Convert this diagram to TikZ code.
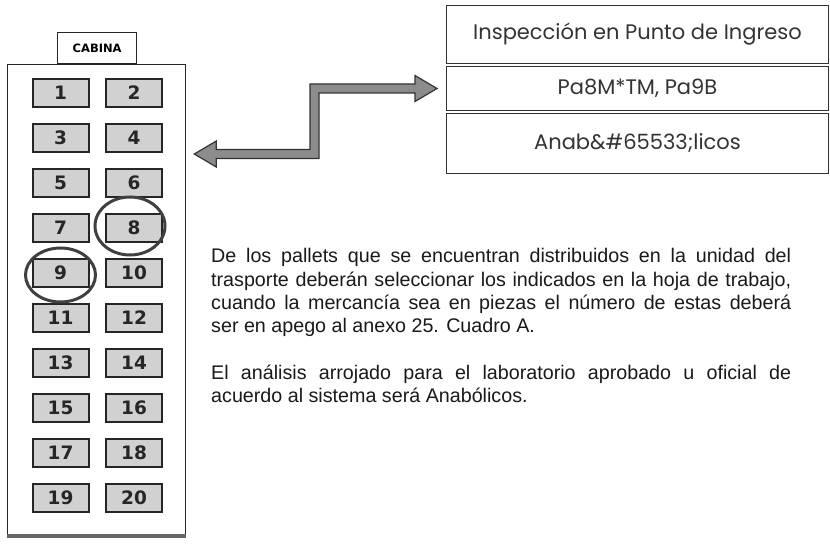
\documentclass[tikz,border=0pt]{standalone}
\usepackage{fontspec}
\setmainfont{Liberation Sans}
\newfontfamily\geo{Poppins}
\newfontfamily\dv{DejaVu Sans}
\usetikzlibrary{calc,shapes.geometric}
\begin{document}
\begin{tikzpicture}[x=1pt,y=-1pt,
  pallet/.style={draw=black!85, line width=2pt, fill=black!18, minimum width=56pt, minimum height=28pt, inner sep=0pt, font=\dv\bfseries\fontsize{18.5}{18.5}\selectfont, text=black!85},
  cell/.style={draw=black!80, line width=1pt, minimum width=382pt, inner sep=0pt, anchor=north west, font=\geo\fontsize{21}{21}\selectfont, text=black!80},
  ring/.style={draw=black!75, line width=3pt, ellipse, inner sep=0pt},
  arrowshape/.style={draw=black!80, line width=1.2pt, fill=black!45, line join=miter},
]
\useasboundingbox (0,0) rectangle (830,545);
% cabin
\node[draw=black!85, line width=1.3pt, minimum width=178pt, minimum height=473pt, anchor=north west, inner sep=0pt] (cabin) at (7,64) {};
\draw[black!60, line width=4pt] ($(cabin.south west)+(0,-2.5)$) -- ($(cabin.south east)+(0,-2.5)$);
\node[draw=black!85, line width=1.3pt, minimum width=79pt, minimum height=31pt, anchor=south west, inner sep=0pt, font=\dv\bfseries\fontsize{11.5}{12}\selectfont] (tab) at (57,64) {CABINA};
\foreach \i in {0,...,9}{
  \pgfmathtruncatemacro{\a}{2*\i+1}
  \pgfmathtruncatemacro{\b}{2*\i+2}
  \node[pallet] (p\a) at (60.5,93+45*\i) {\a};
  \node[pallet] (p\b) at (134,93+45*\i) {\b};
}
\node[ring, minimum width=70pt, minimum height=58pt] (c8) at ($(p8)+(-4,-2)$) {};
\node[ring, minimum width=70pt, minimum height=54pt] (c9) at ($(p9)+(0,2)$) {};
% table
\node[cell, minimum height=58pt] (r1) at (446,5) {Inspección en Punto de Ingreso};
\node[cell, minimum height=44pt] (r2) at (446,66) {Pa8M*TM, Pa9B};
\node[cell, minimum height=60pt] (r3) at (446,113) {Anab\&\#65533;licos};
% double arrow
\coordinate (aL) at ($(cabin.east |- 0,154)+(8,0)$);
\coordinate (aR) at ($(r2.west)+(-9,0)$);
\path[arrowshape] (aL) -- ($(aL)+(22,-13)$) -- ($(aL)+(22,-4.5)$) -- ($(aR |- aL)+(-127,-4.5)$)
  |- ($(aR)+(-22,-4.5)$) -- ($(aR)+(-22,-13)$) -- (aR) -- ($(aR)+(-22,13)$) -- ($(aR)+(-22,4.5)$)
  -- ($(aR)+(-118,4.5)$) |- ($(aL)+(22,4.5)$) -- ($(aL)+(22,13)$) -- cycle;
% paragraph
\node[anchor=north west, text width=580pt, align=justify, inner sep=0pt, font=\fontsize{19.7}{23.3}\selectfont, text=black!90] (para) at (211,248.5)
{\setlength\parindent{0pt}De los pallets que se encuentran distribuidos en la unidad del\linebreak
trasporte deberán seleccionar los indicados en la hoja de trabajo,\linebreak
cuando la mercancía sea en piezas el número de estas deberá\linebreak
ser en apego al anexo 25. Cuadro A.\par\mbox{}\par
El análisis arrojado para el laboratorio aprobado u oficial de\linebreak
acuerdo al sistema será Anabólicos.};
\end{tikzpicture}
\end{document}
